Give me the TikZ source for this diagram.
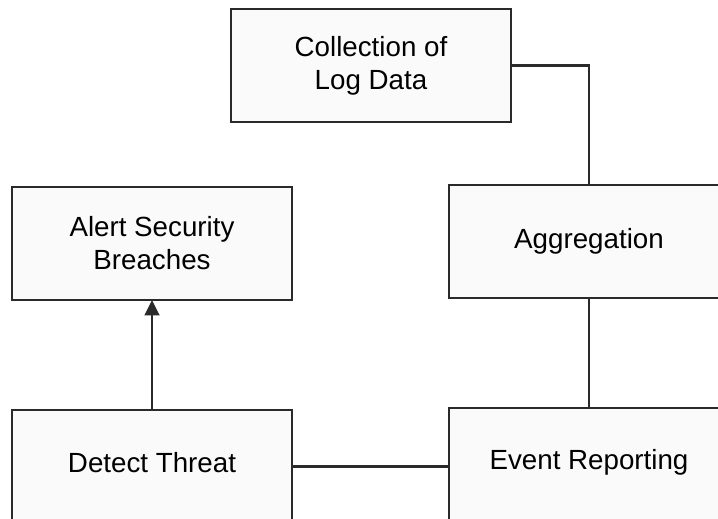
\documentclass[tikz,border=0pt]{standalone}
\usepackage{fontspec}
\setmainfont{Liberation Sans}
\usetikzlibrary{arrows.meta}
\definecolor{boxfill}{HTML}{FAFAFA}
\definecolor{edge}{HTML}{2A2A2A}
\tikzset{
  boxfont/.style={font=\fontsize{20.8pt}{24.75pt}\selectfont},
  stepbox/.style={draw=edge, line width=1.8pt, fill=boxfill, minimum width=210pt, minimum height=84.75pt,
    inner sep=0pt, outer sep=0pt, align=center, boxfont},
  conn/.style={draw=edge, line width=1.8pt}
}
\begin{document}
\begin{tikzpicture}[x=0.75pt, y=-0.75pt]
\useasboundingbox (0,0) rectangle (718,518);
\clip (0,0) rectangle (718,518);
\fill[white] (0,0) rectangle (718,518);
\node[stepbox] (coll) at (371,65.5) {Collection of\\Log Data};
\node[stepbox] (alert) at (152,243.5) {Alert Security\\Breaches};
\node[stepbox] (agg) at (589,241.5) {Aggregation};
\node[stepbox] (det) at (152,466.5) {};
\node[boxfont] (dett) at (152,463) {Detect Threat};
\node[stepbox] (ev) at (589,464.5) {};
\node[boxfont] (evt) at (589,462) {Event Reporting};
\draw[conn] (coll.east) -| (agg.north);
\draw[conn] (agg.south) -- (ev.north);
\draw[conn] (det.east) -- (det.east -| ev.west);
\draw[conn, -{Triangle[length=11.5pt, width=11pt]}] (det.north) -- (alert.south);
\end{tikzpicture}
\end{document}
